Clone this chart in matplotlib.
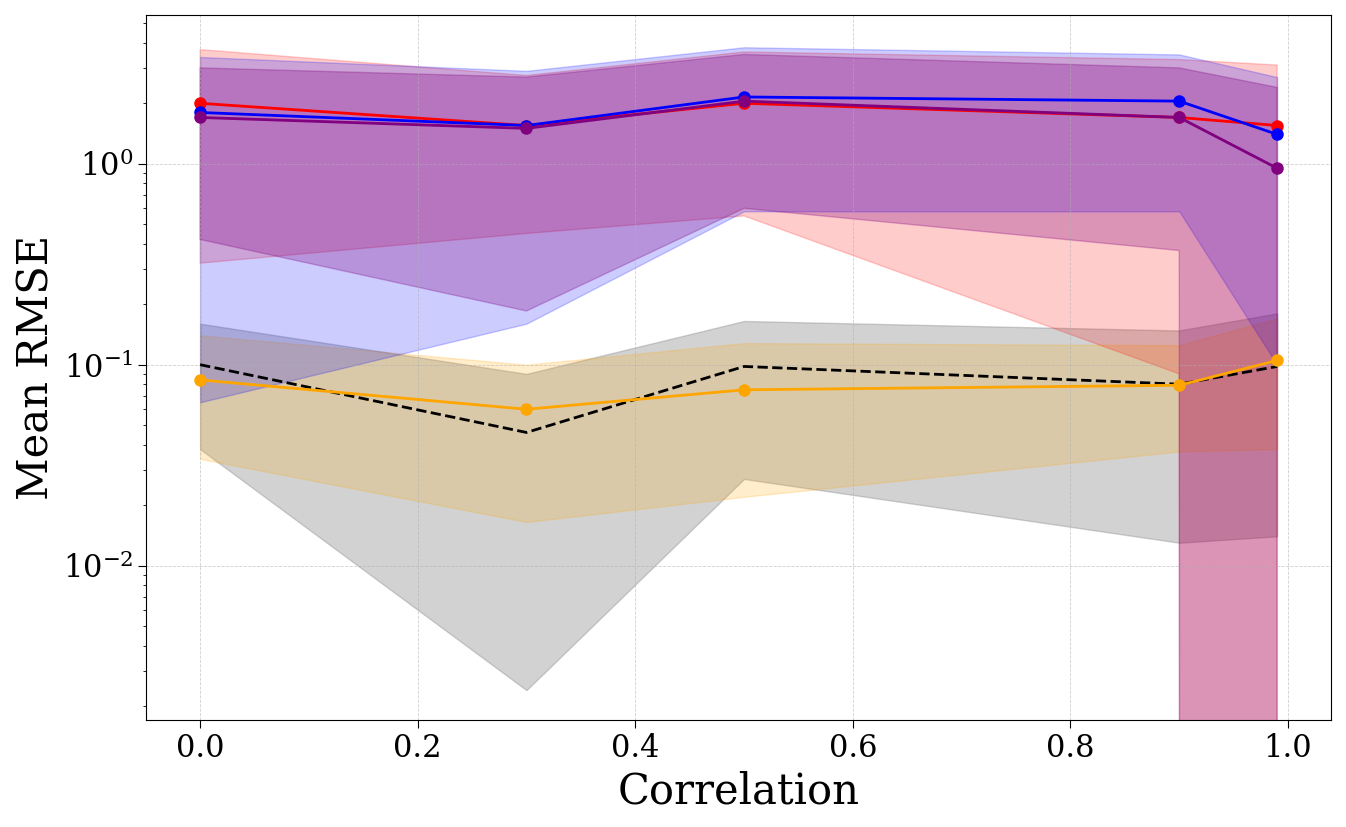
import matplotlib.pyplot as plt
import numpy as np

plt.rcParams['font.family'] = 'DejaVu Serif'
plt.rcParams['mathtext.fontset'] = 'dejavuserif'

corr = [0.0, 0.3, 0.5, 0.9, 0.99]

red_mean = [2.0, 1.55, 2.0, 1.7, 1.55]
red_up = [3.7, 2.75, 3.6, 3.3, 3.1]
red_lo = [0.32, 0.45, 0.55, 0.09, -1.0]

blue_mean = [1.8, 1.55, 2.15, 2.05, 1.4]
blue_up = [3.4, 2.9, 3.8, 3.5, 2.7]
blue_lo = [0.065, 0.16, 0.58, 0.58, 0.1]

purple_mean = [1.7, 1.5, 2.05, 1.7, 0.95]
purple_up = [3.0, 2.7, 3.5, 3.0, 2.4]
purple_lo = [0.42, 0.185, 0.6, 0.37, -1.0]

black_mean = [0.1, 0.046, 0.098, 0.08, 0.098]
black_up = [0.16, 0.09, 0.165, 0.148, 0.18]
black_lo = [0.038, 0.0024, 0.027, 0.013, 0.014]

orange_mean = [0.084, 0.06, 0.075, 0.079, 0.105]
orange_up = [0.14, 0.1, 0.128, 0.125, 0.17]
orange_lo = [0.034, 0.0165, 0.022, 0.037, 0.038]

fig, ax = plt.subplots(figsize=(13.46, 8.27), dpi=100)

ax.fill_between(corr, black_lo, black_up, color="gray", alpha=0.35)
ax.plot(corr, black_mean, "k--", lw=2)

for m, lo, up, c, a in [
    (orange_mean, orange_lo, orange_up, "orange", 0.2),
    (red_mean, red_lo, red_up, "red", 0.2),
    (blue_mean, blue_lo, blue_up, "blue", 0.2),
    (purple_mean, purple_lo, purple_up, "purple", 0.28),
]:
    ax.fill_between(corr, lo, up, color=c, alpha=a)
    ax.plot(corr, m, "-o", color=c, lw=2, markersize=8)

ax.set_yscale("log")
ax.set_ylim(0.0017, 5.5)
ax.set_xlabel("Correlation", fontsize=30)
ax.set_ylabel("Mean RMSE", fontsize=30)
ax.tick_params(labelsize=22, length=6)
ax.grid(True, which="major", ls="--", lw=0.6, alpha=0.6)
fig.tight_layout()
plt.savefig("out.png", dpi=100)
